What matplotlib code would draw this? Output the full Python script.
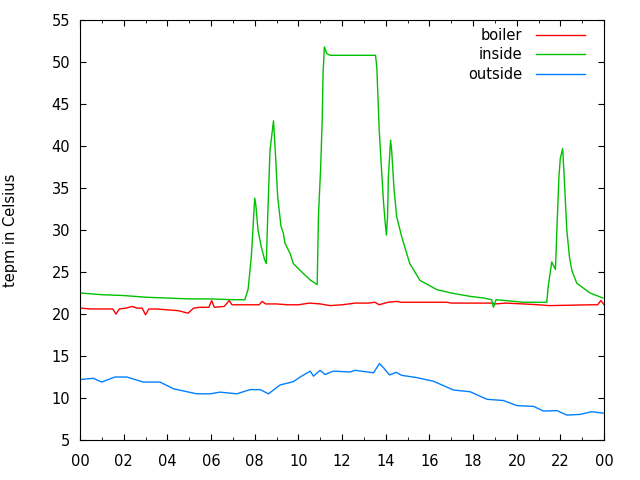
import matplotlib
matplotlib.use("Agg")
import matplotlib.pyplot as plt
from matplotlib.ticker import MultipleLocator

# hours since midnight / temperature
boiler_h = [0, 0.5, 1.0, 1.5, 1.65, 1.8, 2.1, 2.4, 2.6, 2.85, 3.0, 3.15, 3.5, 4.0, 4.5,
            4.95, 5.2, 5.5, 5.9, 6.03, 6.15, 6.6, 6.83, 6.96, 7.5, 8.2, 8.34, 8.5, 9.0,
            9.5, 10.0, 10.5, 11.0, 11.45, 12.0, 12.6, 13.2, 13.5, 13.7, 14.1, 14.5, 14.7,
            16.8, 17.0, 18.9, 19.0, 19.5, 20.3, 21.0, 21.5, 23.4, 23.7, 23.85, 24.0]
boiler_t = [20.7, 20.6, 20.6, 20.6, 20.0, 20.6, 20.7, 20.9, 20.7, 20.7, 19.9, 20.6, 20.6,
            20.5, 20.4, 20.1, 20.7, 20.8, 20.8, 21.6, 20.8, 20.9, 21.6, 21.1, 21.1, 21.1,
            21.5, 21.2, 21.2, 21.1, 21.1, 21.3, 21.2, 21.0, 21.1, 21.3, 21.3, 21.4, 21.1,
            21.4, 21.5, 21.4, 21.4, 21.3, 21.3, 21.2, 21.3, 21.2, 21.1, 21.0, 21.1, 21.1,
            21.6, 21.1]

inside_h = [0.0, 1.0, 2.0, 3.0, 4.0, 5.0, 6.0, 7.0, 7.55, 7.7, 7.85, 8.0, 8.05, 8.15, 8.3,
            8.45, 8.53, 8.6, 8.7, 8.86, 8.95, 9.05, 9.2, 9.31, 9.39, 9.62, 9.77, 10.08,
            10.54, 10.86, 10.92, 11.02, 11.09, 11.13, 11.19, 11.3, 11.45, 13.53, 13.59,
            13.7, 13.79, 13.9, 13.97, 14.03, 14.08, 14.12, 14.22, 14.27, 14.38, 14.5,
            14.73, 15.1, 15.57, 16.34, 17.0, 17.86, 18.5, 18.85, 18.93, 19.05, 19.5, 20.3,
            21.37, 21.45, 21.5, 21.6, 21.77, 21.84, 21.93, 21.99, 22.1, 22.17, 22.29,
            22.41, 22.52, 22.75, 23.36, 23.94]
inside_t = [22.5, 22.3, 22.2, 22.0, 21.9, 21.8, 21.8, 21.7, 21.7, 23.0, 27.0, 33.8, 33.0,
            30.0, 28.0, 26.5, 26.0, 32.0, 39.5, 43.0, 39.0, 34.0, 30.5, 29.6, 28.4, 27.2,
            26.0, 25.2, 24.05, 23.5, 31.8, 37.5, 43.1, 48.7, 51.8, 51.0, 50.8, 50.8, 49.4,
            41.9, 37.9, 33.2, 31.0, 29.4, 31.5, 36.3, 40.7, 39.5, 34.8, 31.6, 29.2, 26.0,
            24.0, 22.9, 22.5, 22.1, 21.9, 21.7, 20.8, 21.7, 21.6, 21.4, 21.4, 23.5, 24.4,
            26.2, 25.3, 30.4, 36.35, 38.5, 39.7, 36.35, 30.0, 26.8, 25.2, 23.65, 22.5, 21.9]

outside_h = [0.0, 0.61, 0.99, 1.6, 2.14, 2.9, 3.66, 4.28, 5.34, 5.96, 6.41, 7.18, 7.79,
             8.25, 8.63, 9.16, 9.77, 10.08, 10.54, 10.69, 10.99, 11.22, 11.6, 12.37, 12.6,
             13.44, 13.71, 13.9, 14.17, 14.48, 14.73, 15.42, 16.18, 17.1, 17.86, 18.63,
             19.39, 20.0, 20.77, 21.22, 21.84, 22.29, 22.9, 23.44, 23.97]
outside_t = [12.2, 12.35, 11.9, 12.5, 12.5, 11.9, 11.9, 11.1, 10.5, 10.5, 10.7, 10.5, 11.0,
             11.0, 10.5, 11.55, 11.95, 12.5, 13.2, 12.6, 13.3, 12.8, 13.2, 13.1, 13.3,
             13.0, 14.1, 13.6, 12.75, 13.05, 12.7, 12.43, 12.0, 10.95, 10.75, 9.85, 9.7,
             9.1, 9.0, 8.45, 8.5, 7.97, 8.05, 8.37, 8.2]

hour_ticks = list(range(0, 25, 2))
hour_labels = ["%02d" % (h % 24) for h in hour_ticks]

plt.rcParams["font.family"] = "DejaVu Sans"
plt.rcParams["font.size"] = 10

fig = plt.figure(figsize=(6.4, 4.8), dpi=100)
ax = fig.add_axes([0.125, 0.0833, 0.819, 0.875])

ax.plot(boiler_h, boiler_t, color="#ff0000", lw=1, label="boiler")
ax.plot(inside_h, inside_t, color="#00c000", lw=1, label="inside")
ax.plot(outside_h, outside_t, color="#0080ff", lw=1, label="outside")

ax.set_xlim(0, 24)
ax.set_ylim(5, 55)
ax.set_xticks(hour_ticks)
ax.set_xticklabels(hour_labels)
ax.xaxis.set_minor_locator(MultipleLocator(1))
ax.set_yticks(range(5, 56, 5))
ax.tick_params(which="both", direction="in", top=True, right=True, labelsize=10.5,
               color="black")
ax.tick_params(which="major", length=4, pad=7)
ax.tick_params(axis="x", which="major", pad=10)
ax.tick_params(which="minor", length=2)
for s in ax.spines.values():
    s.set_linewidth(0.8)

ax.set_ylabel("tepm in Celsius", fontsize=10.5, labelpad=24)

ax.legend(loc="upper right", frameon=False, markerfirst=False, handlelength=3.4,
          labelspacing=0.3, fontsize=10.5, borderaxespad=0.0, handletextpad=0.9,
          bbox_to_anchor=(0.975, 0.995))

fig.savefig("out.png", dpi=100)
